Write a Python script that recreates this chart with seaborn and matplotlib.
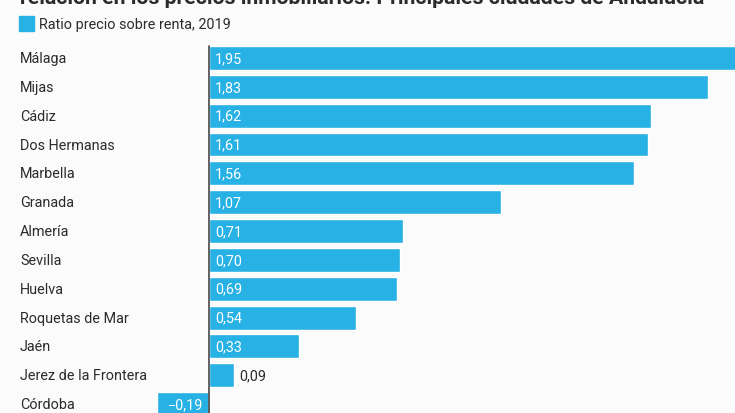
import matplotlib
matplotlib.use("Agg")
import matplotlib.pyplot as plt
import matplotlib.transforms as mtransforms
import seaborn as sns
import pandas as pd

cities = ["Málaga", "Mijas", "Cádiz", "Dos Hermanas", "Marbella", "Granada",
          "Almería", "Sevilla", "Huelva", "Roquetas de Mar", "Jaén",
          "Jerez de la Frontera", "Córdoba"]
values = [1.95, 1.83, 1.62, 1.61, 1.56, 1.07, 0.71, 0.70, 0.69, 0.54, 0.33, 0.09, -0.19]
series_name = "Ratio precio sobre renta, 2019"
title = "relación en los precios inmobiliarios. Principales ciudades de Andalucía"

BG = "#fcfbfb"
BLUE = "#27b1e4"
TXT = "#2b2b2b"

sns.set_theme(style="white")
plt.rcParams["font.family"] = ["Roboto", "DejaVu Sans"]

W, H = 735, 414
fig = plt.figure(figsize=(W / 100, H / 100), dpi=100, facecolor=BG)
ax = fig.add_axes([0, 0, 1, (414 - 45) / 414])
ax.set_facecolor(BG)

df = pd.DataFrame({"city": cities, "value": values})
sns.barplot(data=df, x="value", y="city", orient="h", color=BLUE,
            saturation=1, width=0.83, ax=ax)

ax.set_xlim(-209 / 272.7, (735 - 209) / 272.7)
ax.set_ylim(12.31, -0.486)
for s in ax.spines.values():
    s.set_visible(False)
ax.set_xticks([])
ax.set_yticks([])
ax.set_xlabel("")
ax.set_ylabel("")
ax.axvline(0, color="#555555", lw=1.3, ymin=0, ymax=(12.31 - (-0.42)) / (12.31 + 0.486))

FS = 10.4
trans = mtransforms.blended_transform_factory(fig.transFigure, ax.transData)
pad = 6 / 272.7
for i, (c, v) in enumerate(zip(cities, values)):
    ax.text(20 / W, i, c, transform=trans, ha="left", va="center",
            fontsize=FS, color=TXT)
    lab = f"{abs(v):.2f}".replace(".", ",")
    if v < 0:
        ax.text(-pad, i, "\u2212" + lab, ha="right", va="center", fontsize=FS, color="white")
    elif v < 0.15:
        ax.text(v + pad, i, lab, ha="left", va="center", fontsize=FS, color=TXT)
    else:
        ax.text(pad, i, lab, ha="left", va="center", fontsize=FS, color="white")

# legend
fig.patches.append(plt.Rectangle((19 / W, 1 - 32 / H), 15 / W, 15 / H,
                                 transform=fig.transFigure, color=BLUE))
fig.text(39 / W, 1 - 24.5 / H, series_name, ha="left", va="center",
         fontsize=FS, color=TXT)

# title (cropped at the top in the reference)
fig.text(20 / W, 1 - 4.5 / H, title, ha="left", va="baseline",
         fontsize=15.3, fontweight="bold", color=TXT)

fig.savefig("out.png", dpi=100, facecolor=BG)
